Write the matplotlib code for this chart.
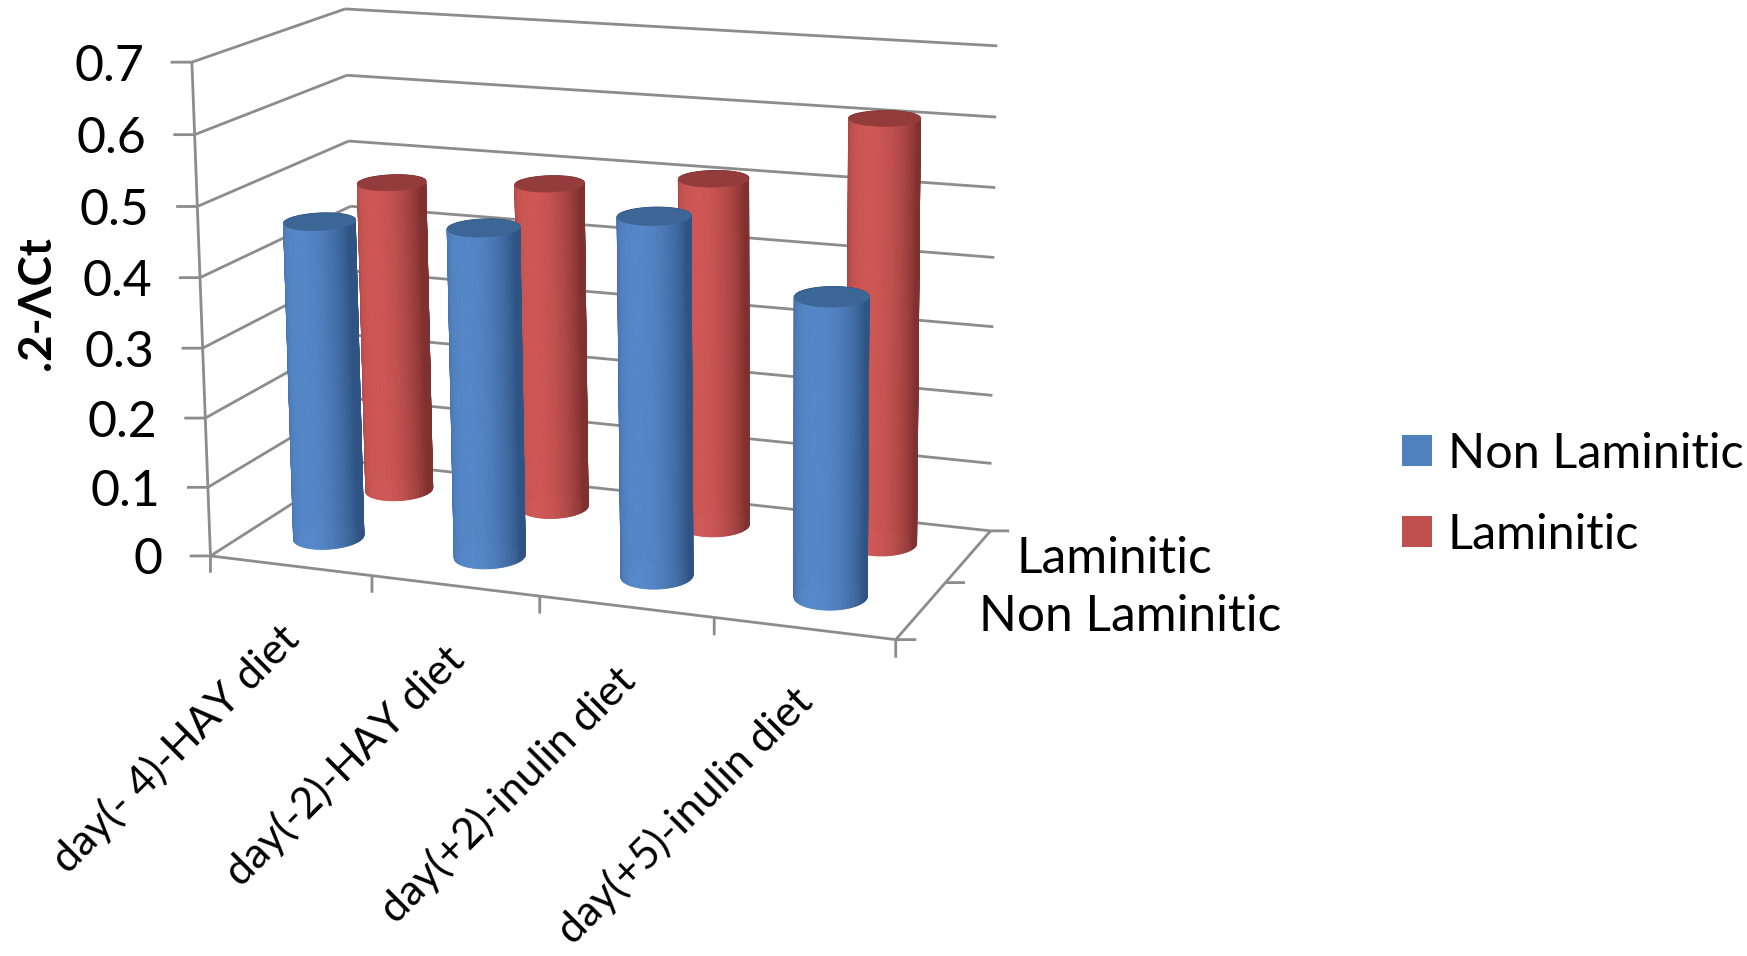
import numpy as np
import matplotlib
matplotlib.use("Agg")
import matplotlib.pyplot as plt
from matplotlib.patches import Patch
from mpl_toolkits.mplot3d import Axes3D
from mpl_toolkits.mplot3d.art3d import Poly3DCollection

# ---------- data ----------
categories = ["day(- 4)-HAY diet", "day(-2)-HAY diet", "day(+2)-inulin diet", "day(+5)-inulin diet"]
series_names = ["Non Laminitic", "Laminitic"]
non_laminitic = [0.46, 0.47, 0.505, 0.415]
laminitic = [0.467, 0.483, 0.508, 0.61]
z_ticks = [0, 0.1, 0.2, 0.3, 0.4, 0.5, 0.6, 0.7]
z_labels = ["0", "0.1", "0.2", "0.3", "0.4", "0.5", "0.6", "0.7"]
y_title = ".2-ΛCt"

# ---------- style ----------
W, H = 1747, 956
S = 1747 / 1568
plt.rcParams['font.family'] = ['Lato', 'DejaVu Sans']
GRID = '#8c8c8c'
BLUE = dict(edge='#2f5484', mid='#5688c9', cap='#3c6695', flat='#4f81bd')
RED = dict(edge='#7f3130', mid='#cf5856', cap='#943c3b', flat='#c0504d')
RX, RY = 0.195, 0.23

# camera: 3D box corners -> pixel positions in the picture
corr = [((0, 0, 0), (190, 497)), ((0, 0, 0.7), (172, 55)),
        ((0, 2, 0), (320, 417)), ((0, 2, 0.7), (310, 8)),
        ((4, 2, 0), (890, 473)), ((4, 2, 0.7), (895, 42)),
        ((4, 0, 0), (803, 577))]
rows = []
for (x, y, z), (u, v) in corr:
    u, v = u * S, v * S
    rows.append([x, y, z, 1, 0, 0, 0, 0, -u*x, -u*y, -u*z, -u])
    rows.append([0, 0, 0, 0, x, y, z, 1, -v*x, -v*y, -v*z, -v])
P = np.linalg.svd(np.array(rows, float))[2][-1].reshape(3, 4)
P = P / P[2, 3]


def to_px(x, y, z):
    q = P @ np.array([x, y, z, 1.0])
    return q[0] / q[2], q[1] / q[2]


def put_text(x, y, z, dx, dy, s, **kw):
    """Text anchored at a data point, shifted by dx, dy pixels of the shrunken view."""
    u, v = to_px(x, y, z)
    fig.text((u + dx*S) / W, 1 - (v + dy*S) / H, s, **kw)


def vertical_tick(xv, y_end):
    """x at depth y_end that falls straight below the floor point (xv, 0)."""
    u0 = to_px(xv, 0, 0)[0]
    a, b = xv, xv + 0.2
    ua, ub = to_px(a, y_end, 0)[0], to_px(b, y_end, 0)[0]
    return a + (u0 - ua) * (b - a) / (ub - ua)


def horizontal_tick(x, y, z, x_end):
    """depth at x_end that stays on the picture row of the point (x, y, z)."""
    v0 = to_px(x, y, z)[1]
    a, b = y, y + 0.2
    va, vb = to_px(x_end, a, z)[1], to_px(x_end, b, z)[1]
    return a + (v0 - va) * (b - a) / (vb - va)


fig = plt.figure(figsize=(W/100, H/100), dpi=100, facecolor='white')
ax = fig.add_axes([0, 0, 1, 1], projection='3d', computed_zorder=False)
ax.set_axis_off()
ax.apply_aspect = lambda position=None, **kw: None


def get_proj():
    inv = ax.transData.inverted()
    o = inv.transform((0, H))
    e = inv.transform((1, H - 1))
    sx, sy = e[0] - o[0], e[1] - o[1]
    A = np.array([[sx, 0, o[0]], [0, sy, o[1]], [0, 0, 1]])
    Q = A @ P
    return np.array([Q[0], Q[1], [0, 1, 0, -3], Q[2]])


ax.get_proj = get_proj


def line(xs, ys, zs, lw=2.0, z=1):
    ax.plot(xs, ys, zs, color=GRID, lw=lw, zorder=z, solid_capstyle='butt')


# grid: walls and floor
for zv in z_ticks:
    line([0, 0], [0, 2], [zv, zv])
    line([0, 4], [2, 2], [zv, zv])
line([0, 0], [0, 0], [0, 0.7])
line([0, 4], [0, 0], [0, 0])
line([4, 4], [0, 2], [0, 0])
# ticks
for zv in z_ticks:
    line([0, -0.11], [0, horizontal_tick(0, 0, zv, -0.11)], [zv, zv])
for xv in range(5):
    line([xv, vertical_tick(xv, -0.27)], [0, -0.27], [0, 0])
for yv in range(3):
    line([4, 4.1], [yv, horizontal_tick(4, yv, 0, 4.1)], [0, 0])


def hexrgb(c):
    return np.array(matplotlib.colors.to_rgb(c))


def cylinder(xc, yc, h, style, zo):
    th = np.linspace(0, 2*np.pi, 121)
    xs = xc + RX*np.cos(th)
    ys = yc + RY*np.sin(th)
    polys, cols = [], []
    e, m = hexrgb(style['edge']), hexrgb(style['mid'])
    for i in range(len(th) - 1):
        polys.append([(xs[i], ys[i], 0), (xs[i+1], ys[i+1], 0),
                      (xs[i+1], ys[i+1], h), (xs[i], ys[i], h)])
        tm = (th[i] + th[i+1]) / 2
        t = max(0.0, np.cos(tm - (-np.pi/2 - 0.12)))
        cols.append(e + (m - e)*t)
    side = Poly3DCollection(polys, facecolors=cols, edgecolors=cols, linewidths=0.6, zorder=zo)
    ax.add_collection3d(side)
    cap = Poly3DCollection([list(zip(xs, ys, np.full_like(xs, h)))], facecolors=style['cap'],
                           edgecolors=style['cap'], linewidths=0.5, zorder=zo + 0.5)
    ax.add_collection3d(cap)


for i, v in enumerate(laminitic):
    cylinder(i + 0.48, 1.55, v, RED, 3 + i*0.01)
for i, v in enumerate(non_laminitic):
    cylinder(i + 0.48, 0.55, v, BLUE, 5 + i*0.01)

FS = 36
# value labels
for zv, s in zip(z_ticks, z_labels):
    put_text(0, 0, zv, -43, 4, s, ha='right', va='center', fontsize=FS, color='black')
# category labels
for i, s in enumerate(categories):
    put_text(i + 0.5, 0, 0, 2, 60, s, rotation=45, rotation_mode='anchor',
             ha='right', va='center', fontsize=31, color='black')
# depth labels
put_text(4, 1.5, 0, 43, 3, series_names[1], ha='left', va='center', fontsize=35.7)
put_text(4, 0.5, 0, 52, 6, series_names[0], ha='left', va='center', fontsize=35.7)

# y title
fig.text(33*S/W, 1 - 272*S/H, y_title, rotation=90, ha='center', va='center',
         fontsize=33, fontweight='bold')

handles = [Patch(facecolor=BLUE['flat'], label=series_names[0]),
           Patch(facecolor=RED['flat'], label=series_names[1])]
fig.legend(handles=handles, loc='center left', bbox_to_anchor=(1258*S/W, 1 - 443.5*S/H), frameon=False,
           fontsize=35, handlelength=0.62, handleheight=0.62, handletextpad=0.33,
           labelspacing=0.76, borderpad=0, borderaxespad=0)

fig.savefig('out.png', dpi=100)
